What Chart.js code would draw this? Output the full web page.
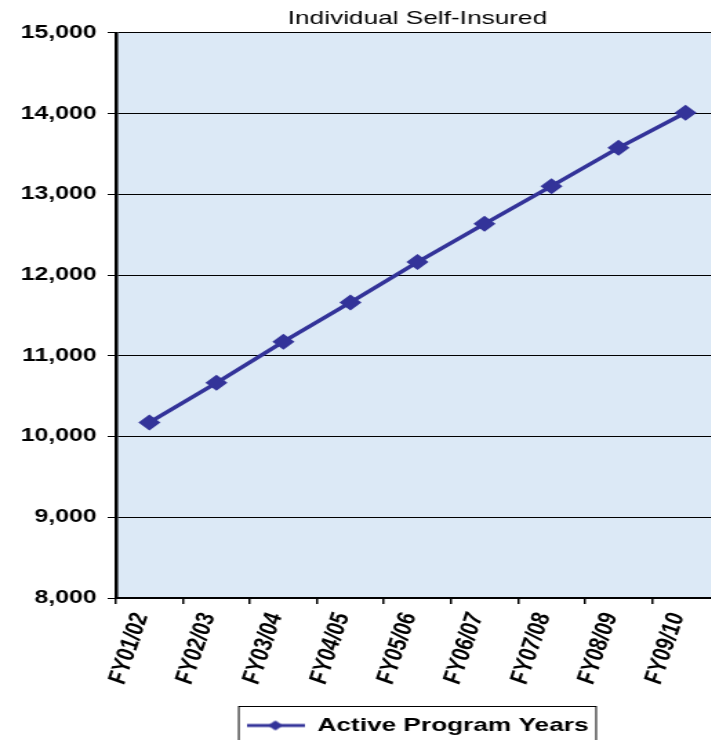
<!DOCTYPE html>
<html>
<head>
<meta charset="utf-8">
<script src="https://cdn.jsdelivr.net/npm/chart.js@4"></script>
<style>
  html, body { margin: 0; padding: 0; background: #fff; overflow: hidden; }
  #wrap { width: 711px; height: 740px; overflow: hidden; position: relative; }
  /* the source picture is stretched sideways, so is this one */
  #chart { position: absolute; left: 0; top: 0; transform: scaleX(1.38); transform-origin: 0 0; }
</style>
</head>
<body>
<div id="wrap"><canvas id="chart" width="605" height="750"></canvas></div>
<script>
const categories = ["FY01/02", "FY02/03", "FY03/04", "FY04/05", "FY05/06", "FY06/07", "FY07/08", "FY08/09", "FY09/10"];
const activeYears = [10175, 10665, 11175, 11660, 12160, 12635, 13100, 13575, 14010];
const yMin = 8000, yMax = 15000, yStep = 1000;
const titleText = "Individual Self-Insured";
const seriesName = "Active Program Years";

const FONT = "'Liberation Sans', Arial, sans-serif";
const navy = "#333399";

// little line + diamond for the legend
function legendMark() {
  const c = document.createElement("canvas");
  c.width = 42; c.height = 14;
  const g = c.getContext("2d");
  g.strokeStyle = navy; g.lineWidth = 3;
  g.beginPath(); g.moveTo(0, 7); g.lineTo(42, 7); g.stroke();
  g.fillStyle = navy;
  g.beginPath();
  g.moveTo(15.5, 7); g.lineTo(21, 2); g.lineTo(26.5, 7); g.lineTo(21, 12);
  g.closePath(); g.fill();
  return c;
}

const plotBg = {
  id: "plotBg",
  beforeDraw(chart) {
    const { ctx, chartArea: a } = chart;
    ctx.save();
    ctx.fillStyle = "#dce9f6";
    ctx.fillRect(a.left, a.top, a.right - a.left, a.bottom - a.top);
    ctx.restore();
  }
};

const legendFrame = {
  id: "legendFrame",
  afterDraw(chart) {
    const hb = chart.legend.legendHitBoxes[0];
    if (!hb) return;
    const ctx = chart.ctx;
    ctx.save();
    ctx.strokeStyle = "#000";
    ctx.lineWidth = 1;
    ctx.strokeRect(hb.left - 5.5, hb.top - 9.5, hb.width + 11, hb.height + 30);
    ctx.restore();
  }
};

new Chart(document.getElementById("chart"), {
  type: "line",
  data: {
    labels: categories,
    datasets: [{
      label: seriesName,
      data: activeYears,
      borderColor: navy,
      backgroundColor: navy,
      borderWidth: 3.5,
      pointStyle: "rectRot",
      pointRadius: 8,
      pointBorderWidth: 0,
      pointBackgroundColor: navy,
      tension: 0
    }]
  },
  options: {
    responsive: false,
    animation: false,
    layout: { padding: { left: 0, right: 0, top: 0, bottom: 5 } },
    plugins: {
      title: {
        display: true,
        text: titleText,
        color: "#000",
        font: { family: FONT, size: 19, weight: "normal" },
        padding: { top: 7, bottom: 3 }
      },
      legend: {
        position: "bottom",
        labels: {
          usePointStyle: true,
          pointStyle: legendMark(),
          pointStyleWidth: 42,
          color: "#000",
          font: { family: FONT, size: 19, weight: "bold" },
          padding: 10
        }
      },
      tooltip: { enabled: false }
    },
    scales: {
      x: {
        offset: true,
        afterFit(scale) { scale.height = 108; },
        grid: { offset: true, drawOnChartArea: false, color: "#000", lineWidth: 1.5, tickLength: 6 },
        border: { color: "#000", width: 2 },
        ticks: {
          autoSkip: false,
          minRotation: 76,
          maxRotation: 76,
          padding: 7,
          labelOffset: -6,
          color: "#000",
          font: { family: FONT, size: 19, weight: "bold", style: "italic" }
        }
      },
      y: {
        min: yMin,
        max: yMax,
        afterFit(scale) { scale.width = 84; },
        grid: { color: "#000", lineWidth: 1, tickLength: 6 },
        border: { color: "#000", width: 2.5 },
        ticks: {
          stepSize: yStep,
          padding: 8,
          color: "#000",
          font: { family: FONT, size: 18, weight: "bold" },
          callback: v => v.toLocaleString("en-US")
        }
      },
      // empty right-hand strip: the plot runs off the picture's edge
      spare: {
        position: "right",
        afterFit(scale) { scale.width = 84; },
        grid: { display: false },
        border: { display: false },
        ticks: { display: false }
      }
    }
  },
  plugins: [plotBg, legendFrame]
});
</script>
</body>
</html>
